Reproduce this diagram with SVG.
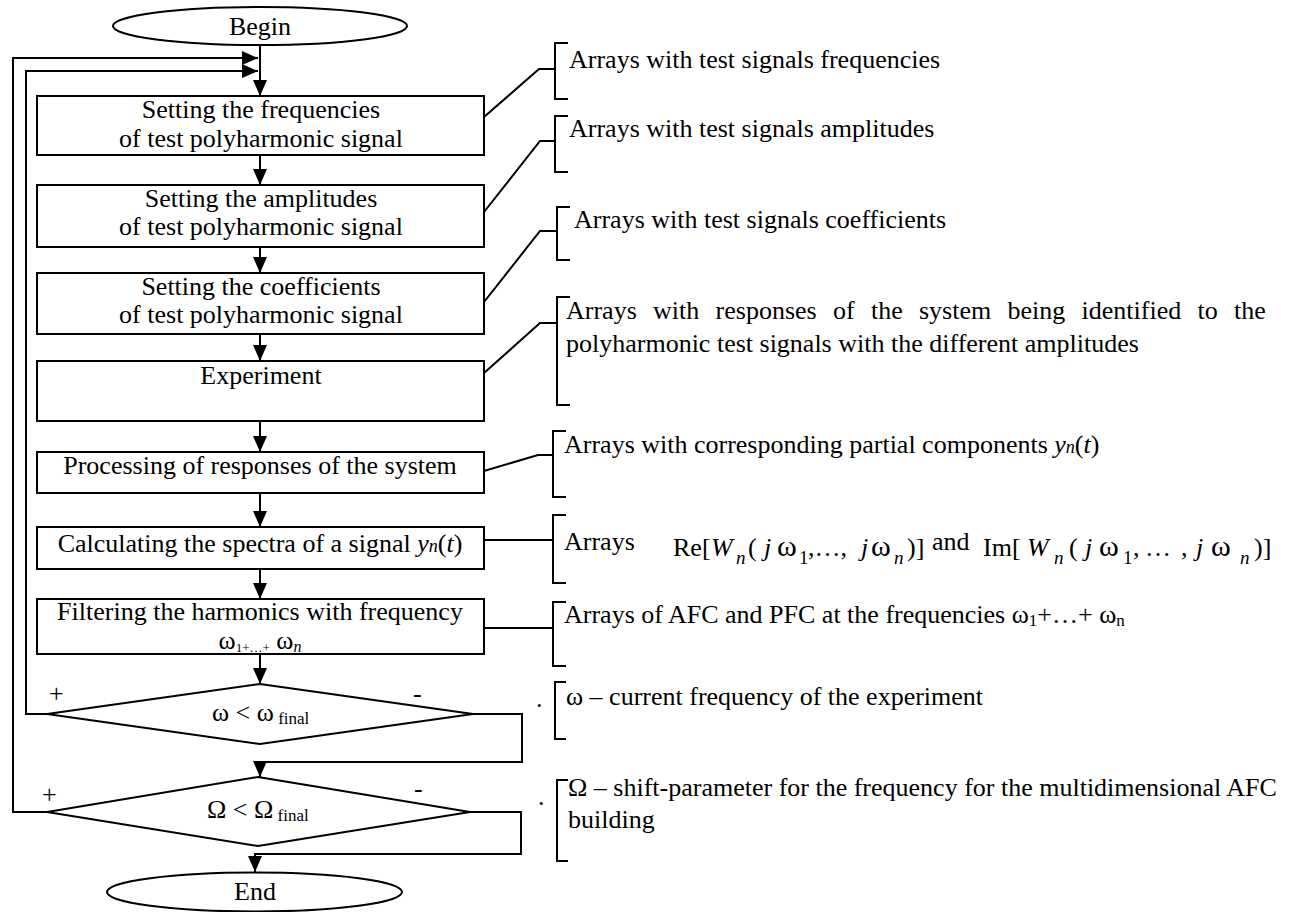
<svg xmlns="http://www.w3.org/2000/svg" width="1290" height="912" viewBox="0 0 1290 912">
<defs>
<marker id="arr" markerUnits="userSpaceOnUse" markerWidth="16" markerHeight="14" viewBox="0 0 16 14" refX="16" refY="7" orient="auto">
<path d="M0,0 L16,7 L0,14 z" fill="#000"/>
</marker>
</defs>
<style>
text{font-family:"Liberation Serif","Times New Roman",serif;fill:#000;font-size:26px}
.c{text-anchor:middle}
.shape{fill:#fff;stroke:#000;stroke-width:2}
.ln{fill:none;stroke:#000;stroke-width:2}
.i{font-style:italic}
</style>
<rect x="0" y="0" width="1290" height="912" fill="#fff"/>

<g id="connectors">
<path class="ln" d="M260,45 V96" marker-end="url(#arr)"/>
<path class="ln" d="M47,812 H13 V58 H258" marker-end="url(#arr)"/>
<path class="ln" d="M47,714 H26 V71 H258" marker-end="url(#arr)"/>
<path class="ln" d="M260,155 V185" marker-end="url(#arr)"/>
<path class="ln" d="M260,247 V273" marker-end="url(#arr)"/>
<path class="ln" d="M260,334 V361" marker-end="url(#arr)"/>
<path class="ln" d="M260,421 V452" marker-end="url(#arr)"/>
<path class="ln" d="M260,493 V527" marker-end="url(#arr)"/>
<path class="ln" d="M260,569 V599" marker-end="url(#arr)"/>
<path class="ln" d="M260,654 V684" marker-end="url(#arr)"/>
<path class="ln" d="M473,714 H522 V762 H260 V777" marker-end="url(#arr)"/>
<path class="ln" d="M470,812 H521 V854 H255 V872" marker-end="url(#arr)"/>
<path class="ln" d="M484,117 L539,69 H555"/>
<path class="ln" d="M484,212 L540,141 H555"/>
<path class="ln" d="M484,302 L540,231 H557"/>
<path class="ln" d="M484,373 L540,323 H557"/>
<path class="ln" d="M484,471 L538,455 H553"/>
<path class="ln" d="M484,540 H553"/>
<path class="ln" d="M484,628 H553"/>
</g>

<g id="begin">
<ellipse class="shape" cx="260" cy="26" rx="147" ry="19"/>
<text class="c" x="260" y="35">Begin</text>
</g>

<g id="box-frequencies">
<rect class="shape" x="37" y="96" width="447" height="59"/>
<text class="c" x="261" y="118">Setting the frequencies</text>
<text class="c" x="261" y="147">of test polyharmonic signal</text>
</g>

<g id="box-amplitudes">
<rect class="shape" x="37" y="185" width="447" height="62"/>
<text class="c" x="261" y="207">Setting the amplitudes</text>
<text class="c" x="261" y="235">of test polyharmonic signal</text>
</g>

<g id="box-coefficients">
<rect class="shape" x="37" y="273" width="447" height="61"/>
<text class="c" x="261" y="295">Setting the coefficients</text>
<text class="c" x="261" y="323">of test polyharmonic signal</text>
</g>

<g id="box-experiment">
<rect class="shape" x="37" y="361" width="447" height="60"/>
<text class="c" x="261" y="384">Experiment</text>
</g>

<g id="box-processing">
<rect class="shape" x="37" y="452" width="447" height="41"/>
<text class="c" x="260" y="474">Processing of responses of the system</text>
</g>

<g id="box-spectra">
<rect class="shape" x="37" y="527" width="447" height="42"/>
<text class="c" x="260" y="552">Calculating the spectra of a signal <tspan class="i">y</tspan><tspan class="i" font-size="18">n</tspan>(<tspan class="i">t</tspan>)</text>
</g>

<g id="box-filtering">
<rect class="shape" x="37" y="599" width="447" height="55"/>
<text class="c" x="260" y="620">Filtering the harmonics with frequency</text>
<text class="c" x="260" y="649" font-size="20">ω<tspan font-size="13" dy="3">1+…+</tspan><tspan dy="-3"> ω</tspan><tspan class="i" font-size="16" dy="3">n</tspan></text>
</g>

<g id="decision-omega">
<polygon class="shape" points="260,684 473,714 260,744 47,714"/>
<text x="212" y="721">ω &lt; ω<tspan font-size="17" dy="3"> final</tspan></text>
<text x="49" y="702" font-size="22">+</text>
<text x="413" y="702" font-size="22">-</text>
</g>

<g id="decision-Omega">
<polygon class="shape" points="258,777 470,812 258,846 47,812"/>
<text x="207" y="818">Ω &lt; Ω<tspan font-size="17" dy="3"> final</tspan></text>
<text x="42" y="803" font-size="22">+</text>
<text x="414" y="797" font-size="22">-</text>
</g>

<g id="end">
<ellipse class="shape" cx="254.5" cy="892" rx="147.5" ry="19.5"/>
<text class="c" x="255" y="900">End</text>
</g>

<g id="note-frequencies">
<path class="ln" d="M568,43 H555 V99 H568"/>
<text x="569" y="68">Arrays with test signals frequencies</text>
</g>

<g id="note-amplitudes">
<path class="ln" d="M568,116 H555 V172 H568"/>
<text x="569" y="137">Arrays with test signals amplitudes</text>
</g>

<g id="note-coefficients">
<path class="ln" d="M570,207 H557 V260 H570"/>
<text x="574" y="228">Arrays with test signals coefficients</text>
</g>

<g id="note-responses">
<path class="ln" d="M570,297 H557 V405 H570"/>
<text x="566" y="319" word-spacing="9.8">Arrays with responses of the system being identified to the</text>
<text x="566" y="352">polyharmonic test signals with the different amplitudes</text>
</g>

<g id="note-partial">
<path class="ln" d="M566,431 H553 V497 H566"/>
<text x="564" y="453">Arrays with corresponding partial components  <tspan class="i">y</tspan><tspan class="i" font-size="18">n</tspan>(<tspan class="i">t</tspan>)</text>
</g>

<g id="note-spectra">
<path class="ln" d="M566,515 H553 V583 H566"/>
<text x="564" y="550">Arrays</text>
<text y="556" font-size="28"><tspan x="673">Re[</tspan><tspan class="i" x="711">W</tspan><tspan class="i" x="736" font-size="19" dy="8">n</tspan><tspan x="748" dy="-8">(</tspan><tspan class="i" x="764">j</tspan><tspan x="777" font-size="30">ω</tspan><tspan x="799" font-size="19" dy="8">1</tspan><tspan x="808" dy="-8">,…,</tspan><tspan class="i" x="861">j</tspan><tspan x="871" font-size="30">ω</tspan><tspan class="i" x="894" font-size="19" dy="8">n</tspan><tspan x="907" dy="-8">)]</tspan></text>
<text x="932" y="550">and</text>
<text y="556" font-size="28"><tspan x="983">Im[</tspan><tspan class="i" x="1027">W</tspan><tspan class="i" x="1054" font-size="19" dy="8">n</tspan><tspan x="1069" dy="-8">(</tspan><tspan class="i" x="1085">j</tspan><tspan x="1099" font-size="30">ω</tspan><tspan x="1123" font-size="19" dy="8">1</tspan><tspan x="1133" dy="-8">,</tspan><tspan x="1145">…</tspan><tspan x="1181">,</tspan><tspan class="i" x="1196">j</tspan><tspan x="1211" font-size="30">ω</tspan><tspan class="i" x="1240" font-size="19" dy="8">n</tspan><tspan x="1254" dy="-8">)]</tspan></text>
</g>

<g id="note-afc">
<path class="ln" d="M566,602 H553 V666 H566"/>
<text x="564" y="623">Arrays of AFC and PFC at the frequencies ω<tspan font-size="17" dy="3">1</tspan><tspan dy="-3">+…+ ω</tspan><tspan font-size="17" dy="3">n</tspan></text>
</g>

<g id="note-omega">
<text x="536" y="707" font-size="16">.</text>
<path class="ln" d="M566,682 H555 V739 H566"/>
<text x="566" y="705">ω – current frequency of the experiment</text>
</g>

<g id="note-Omega">
<text x="538" y="805" font-size="16">.</text>
<path class="ln" d="M568,780 H557 V861 H568"/>
<text x="568" y="796">Ω – shift-parameter for the frequency for the multidimensional AFC</text>
<text x="568" y="828">building</text>
</g>
</svg>
